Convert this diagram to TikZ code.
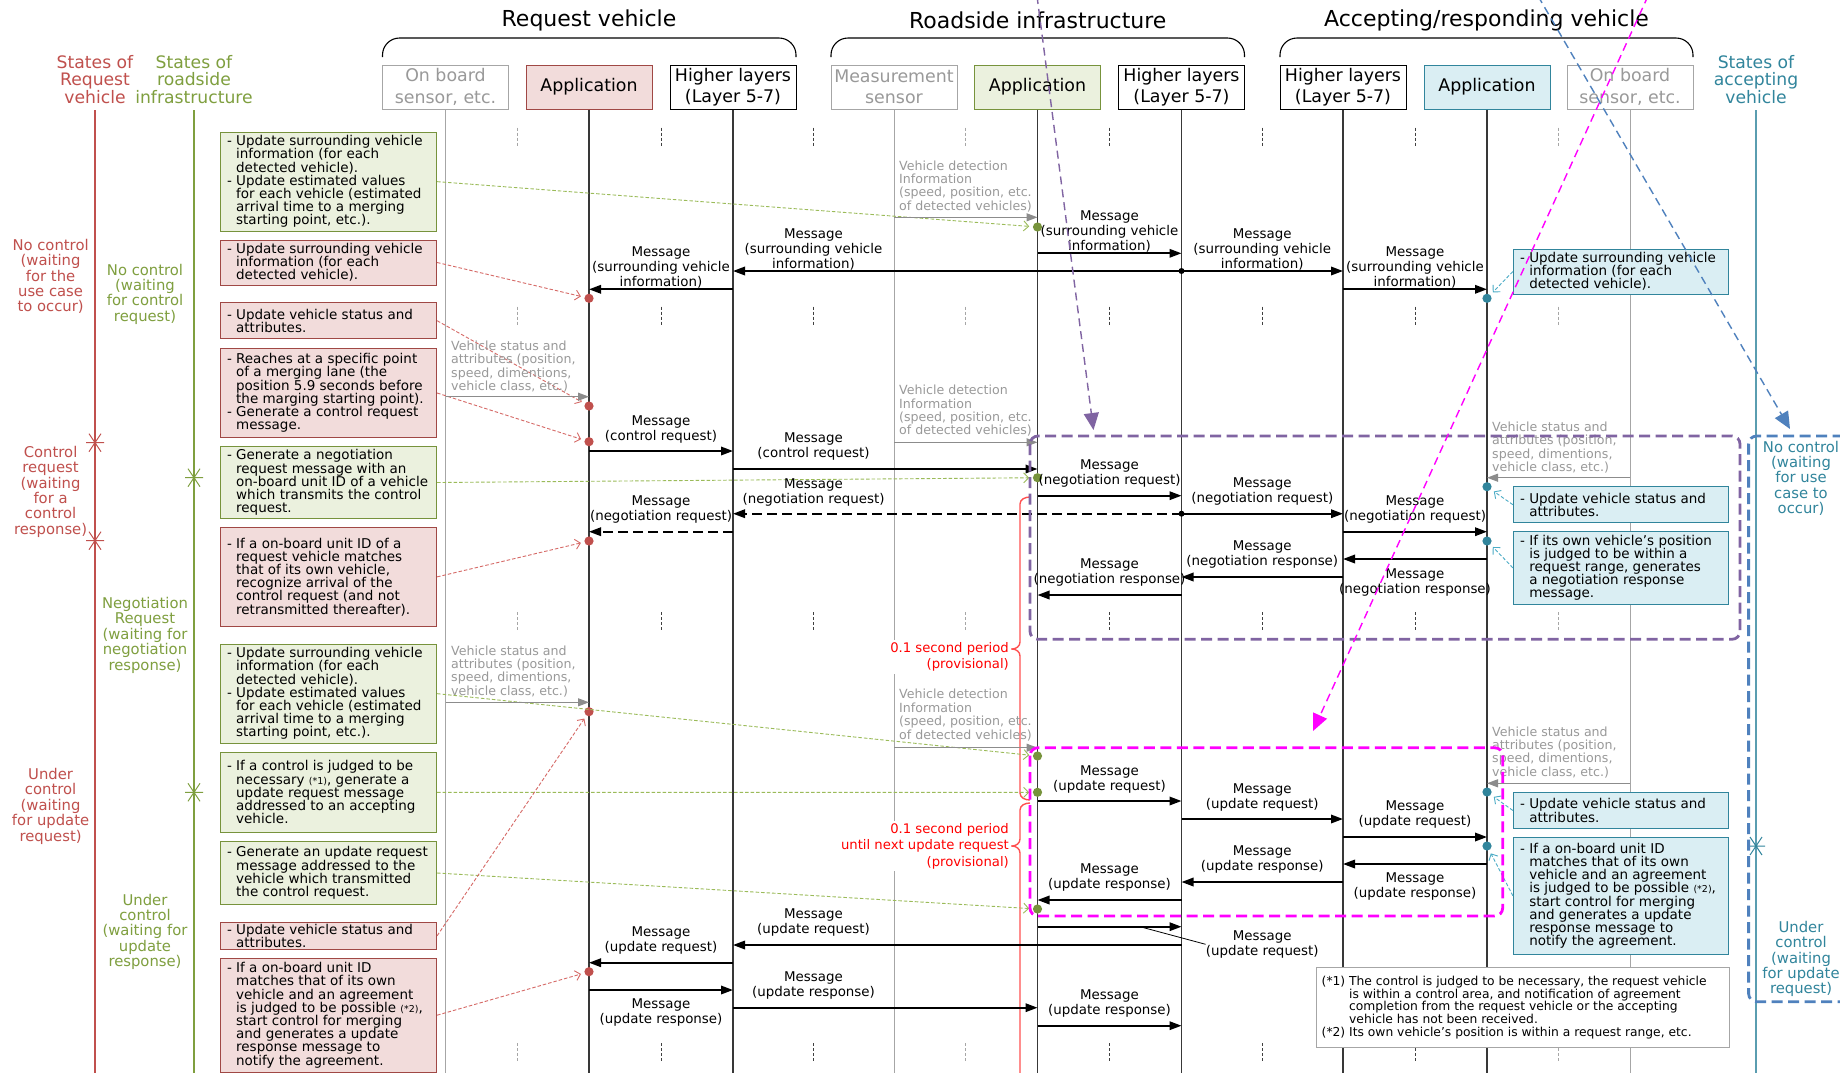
\documentclass[tikz,border=0pt]{standalone}
\usepackage{fontspec}
\setmainfont{DejaVu Sans}
\usetikzlibrary{arrows.meta}

\definecolor{rdA}{HTML}{C0504D}
\definecolor{rdFill}{HTML}{F2DCDB}
\definecolor{rdEdge}{HTML}{A04845}
\definecolor{rdDash}{HTML}{D66A67}
\definecolor{gnA}{HTML}{7F9F3F}
\definecolor{gnFill}{HTML}{EBF1DE}
\definecolor{gnEdge}{HTML}{77933C}
\definecolor{gnDash}{HTML}{9BBB59}
\definecolor{gnDot}{HTML}{77933C}
\definecolor{blA}{HTML}{31859C}
\definecolor{blFill}{HTML}{DAEEF3}
\definecolor{blEdge}{HTML}{31859C}
\definecolor{blDash}{HTML}{4BACC6}
\definecolor{grA}{HTML}{8C8C8C}
\definecolor{grTxt}{HTML}{999999}
\definecolor{grEdge}{HTML}{A6A6A6}
\definecolor{purp}{HTML}{8064A2}
\definecolor{magen}{HTML}{FF00FF}
\definecolor{blueBox}{HTML}{4F81BD}
\definecolor{brRed}{HTML}{FF5050}

\newcommand\hng{\hphantom{-\ }}
\newcommand\fnhang{\hphantom{(*1)\ }}
\newcommand\smallnote[1]{{\fontsize{9.5}{9.5}\selectfont #1}}

\tikzset{
  hdr/.style={font=\fontsize{22}{24}\selectfont, inner sep=0pt},
  grpbrace/.style={line width=1.1pt, rounded corners=17pt},
  lifebox/.style={draw, line width=1pt, minimum width=126pt, minimum height=44pt, inner sep=0pt, align=center, font=\fontsize{17.4}{21.5}\selectfont},
  sensorbox/.style={lifebox, draw=grEdge, text=grTxt, fill=white},
  layerbox/.style={lifebox, draw=black, fill=white},
  appR/.style={lifebox, draw=rdEdge, fill=rdFill},
  appG/.style={lifebox, draw=gnEdge, fill=gnFill},
  appB/.style={lifebox, draw=blEdge, fill=blFill},
  lifeline/.style={line width=1.3pt, draw=black!78},
  sensorline/.style={line width=1pt, draw=grEdge},
  gaptick/.style={line width=0.8pt, dash pattern=on 3pt off 2pt},
  sthead/.style={font=\fontsize{17.2}{17.5}\selectfont, align=center, inner sep=0pt},
  stlbl/.style={font=\fontsize{14.8}{15.4}\selectfont, align=center, inner sep=0pt},
  lbox/.style={line width=1pt, minimum width=216.5pt, inner sep=0pt},
  rbox/.style={lbox, draw=rdEdge, fill=rdFill},
  gbox/.style={lbox, draw=gnEdge, fill=gnFill},
  bbox/.style={lbox, draw=blEdge, fill=blFill, minimum width=215.5pt},
  btxt/.style={font=\fontsize{13.5}{13.2}\selectfont, align=left, inner sep=0pt, anchor=west},
  dotR/.style={circle, fill=rdA, inner sep=0pt, minimum size=9.2pt},
  dotG/.style={circle, fill=gnDot, inner sep=0pt, minimum size=9.2pt},
  dotB/.style={circle, fill=blA, inner sep=0pt, minimum size=9.2pt},
  dotK/.style={circle, fill=black, inner sep=0pt, minimum size=6pt},
  notearrow/.style={line width=0.9pt, dash pattern=on 3.5pt off 2pt, -{Straight Barb[length=5pt,width=10pt]}, shorten >=3.5pt},
  rdash/.style={notearrow, draw=rdDash},
  gdash/.style={notearrow, draw=gnDash},
  bdash/.style={notearrow, draw=blDash},
  msg/.style={line width=1.8pt, -{Triangle[length=12pt,width=8.5pt]}},
  msgd/.style={msg, dash pattern=on 10pt off 5pt},
  sarr/.style={line width=1.1pt, draw=grA, -{Triangle[length=11pt,width=8pt]}},
  mlbl/.style={font=\fontsize{13.4}{15}\selectfont, align=center, inner sep=0pt},
  slbl/.style={font=\fontsize{12.6}{13.4}\selectfont, align=left, inner sep=0pt, anchor=west, text=grTxt},
  rtxt/.style={font=\fontsize{13.2}{16.5}\selectfont, text=red, align=right, fill=white, inner sep=2pt, anchor=east},
  timebrace/.style={draw=brRed, line width=1.4pt},
  bigtip/.style={-{Triangle[length=17pt,width=15pt]}},
  longarr/.style={line width=1.4pt, dash pattern=on 8pt off 5pt, bigtip},
  groupbox/.style={line width=2.8pt, dash pattern=on 11pt off 5.5pt, rounded corners=8pt},
  fnbox/.style={draw=grEdge, line width=1pt, fill=white, minimum width=413pt, minimum height=80.4pt, inner sep=0pt},
  fntxt/.style={font=\fontsize{12.3}{12.8}\selectfont, align=left, inner sep=0pt, anchor=west},
  statemark/.pic={\draw (-9,0) -- (9,0) (-6,-9) -- (6,9) (6,-9) -- (-6,9);},
}

\begin{document}
\begin{tikzpicture}[x=1pt,y=-1pt]
\useasboundingbox (0,0) rectangle (1840,1072);
\clip (0,0) rectangle (1840,1072);
\fill[white] (0,0) rectangle (1840,1072);
\coordinate (bottom) at (0,1074);

% ---------- group headers ----------
\node[hdr] (hdA) at (589,20) {Request vehicle};
\node[hdr] (hdB) at (1037.75,20) {Roadside infrastructure};
\node[hdr] (hdC) at (1486.5,20) {Accepting/responding vehicle};
\draw[grpbrace] (382.5,57) -- (382.5,38) -- (796,38) -- (796,57);
\draw[grpbrace] (831,57) -- (831,38) -- (1244.5,38) -- (1244.5,57);
\draw[grpbrace] (1280,57) -- (1280,38) -- (1693,38) -- (1693,57);

% ---------- lifeline heads ----------
\node[sensorbox] (sA) at (445.5,87) {On board\\sensor, etc.};
\node[appR] (aA) at (589,87) {Application};
\node[layerbox] (hA) at (733,87) {Higher layers\\(Layer 5-7)};
\node[sensorbox] (sB) at (894,87) {Measurement\\sensor};
\node[appG] (aB) at (1037.5,87) {Application};
\node[layerbox] (hB) at (1181.5,87) {Higher layers\\(Layer 5-7)};
\node[layerbox] (hC) at (1343,87) {Higher layers\\(Layer 5-7)};
\node[appB] (aC) at (1487,87) {Application};
\node[sensorbox] (sC) at (1630,87) {On board\\sensor, etc.};

% lifelines
\draw[sensorline] (sA.south) -- (sA |- bottom);
\draw[sensorline] (sB.south) -- (sB |- bottom);
\draw[sensorline] (sC.south) -- (sC |- bottom);
\foreach \n in {aA,hA,aB,hB,hC,aC} \draw[lifeline] (\n.south) -- (\n |- bottom);

% gap ticks between lifelines
\foreach \y in {127.7,306.7,612.3,1043}{
  \foreach \x in {517.25,965.75,1558.5} \draw[gaptick, grEdge] (\x,\y) -- ++(0,18);
  \foreach \x in {661,813.5,1109.5,1262.25,1415} \draw[gaptick, black!75] (\x,\y) -- ++(0,18);
}

% ---------- state columns ----------
\node[sthead, text=rdA] (shR) at (95,79.5) {States of\\Request\\vehicle};
\node[sthead, text=gnA] (shG) at (194,79.5) {States of\\roadside\\infrastructure};
\node[sthead, text=blA] (shB) at (1756,79.5) {States of\\accepting\\vehicle};
\draw[rdA, line width=1.2pt] (shR |- 0,110) -- (shR |- bottom);
\draw[gnA, line width=1.2pt] (shG |- 0,110) -- (shG |- bottom);
\draw[blA!80, line width=1.2pt] (shB |- 0,110) -- (shB |- bottom);

\node[stlbl, text=rdA] (sr1) at (50.6,276.5) {No control\\(waiting\\for the\\use case\\to occur)};
\node[stlbl, text=rdA] (sr2) at (50.6,491.7) {Control\\request\\(waiting\\for a\\control\\response)};
\node[stlbl, text=rdA] (sr3) at (50.6,806.3) {Under\\control\\(waiting\\for update\\request)};
\node[stlbl, text=gnA] (sg1) at (145,294.2) {No control\\(waiting\\for control\\request)};
\node[stlbl, text=gnA] (sg2) at (145,635.3) {Negotiation\\Request\\(waiting for\\negotiation\\response)};
\node[stlbl, text=gnA] (sg3) at (145,931.8) {Under\\control\\(waiting for\\update\\response)};
\node[stlbl, text=blA] (sb1) at (1801,478.3) {No control\\(waiting\\for use\\case to\\occur)};
\node[stlbl, text=blA] (sb2) at (1801,959) {Under\\control\\(waiting\\for update\\request)};

\pic[rdA, line width=1pt] at (95,442.7) {statemark};
\pic[rdA, line width=1pt] at (95,540.7) {statemark};
\pic[gnA, line width=1pt] at (194,477.7) {statemark};
\pic[gnA, line width=1pt] at (194,792.3) {statemark};
\pic[blA, line width=1pt] at (1756,846) {statemark};

% ---------- request vehicle / roadside notes ----------
\node[gbox, minimum height=98.7pt] (b1) at (328.35,181.65) {};
\node[btxt] (b1t) at ([xshift=7.2pt]b1.west) {- Update surrounding vehicle\\\hng information (for each\\\hng detected vehicle).\\- Update estimated values\\\hng for each vehicle (estimated\\\hng arrival time to a merging\\\hng starting point, etc.).};
\node[rbox, minimum height=45pt] (b2) at (328.35,262.5) {};
\node[btxt] (b2t) at ([xshift=7.2pt]b2.west) {- Update surrounding vehicle\\\hng information (for each\\\hng detected vehicle).};
\node[rbox, minimum height=36pt] (b3) at (328.35,320.7) {};
\node[btxt] (b3t) at ([xshift=7.2pt]b3.west) {- Update vehicle status and\\\hng attributes.};
\node[rbox, minimum height=89.4pt] (b4) at (328.35,393) {};
\node[btxt] (b4t) at ([xshift=7.2pt]b4.west) {- Reaches at a specific point\\\hng of a merging lane (the\\\hng position 5.9 seconds before\\\hng the marging starting point).\\- Generate a control request\\\hng message.};
\node[gbox, minimum height=71.6pt] (b5) at (328.35,482.5) {};
\node[btxt] (b5t) at ([xshift=7.2pt]b5.west) {- Generate a negotiation\\\hng request message with an\\\hng on-board unit ID of a vehicle\\\hng which transmits the control\\\hng request.};
\node[rbox, minimum height=98.3pt] (b6) at (328.35,576.85) {};
\node[btxt] (b6t) at ([xshift=7.2pt]b6.west) {- If a on-board unit ID of a\\\hng request vehicle matches\\\hng that of its own vehicle,\\\hng recognize arrival of the\\\hng control request (and not\\\hng retransmitted thereafter).};
\node[gbox, minimum height=99.3pt] (b7) at (328.35,693.65) {};
\node[btxt] (b7t) at ([xshift=7.2pt]b7.west) {- Update surrounding vehicle\\\hng information (for each\\\hng detected vehicle).\\- Update estimated values\\\hng for each vehicle (estimated\\\hng arrival time to a merging\\\hng starting point, etc.).};
\node[gbox, minimum height=80.7pt] (b8) at (328.35,792.35) {};
\node[btxt] (b8t) at ([xshift=7.2pt]b8.west) {- If a control is judged to be\\\hng necessary \smallnote{(*1)}, generate a\\\hng update request message\\\hng addressed to an accepting\\\hng vehicle.};
\node[gbox, minimum height=62.6pt] (b9) at (328.35,873) {};
\node[btxt] (b9t) at ([xshift=7.2pt]b9.west) {- Generate an update request\\\hng message addressed to the\\\hng vehicle which transmitted\\\hng the control request.};
\node[rbox, minimum height=27pt] (b10) at (328.35,935.8) {};
\node[btxt] (b10t) at ([xshift=7.2pt]b10.west) {- Update vehicle status and\\\hng attributes.};
\node[rbox, minimum height=113.7pt] (b11) at (328.35,1015.2) {};
\node[btxt] (b11t) at ([xshift=7.2pt]b11.west) {- If a on-board unit ID\\\hng matches that of its own\\\hng vehicle and an agreement\\\hng is judged to be possible \smallnote{(*2)},\\\hng start control for merging\\\hng and generates a update\\\hng response message to\\\hng notify the agreement.};

% ---------- accepting vehicle notes ----------
\node[bbox, minimum height=45pt] (c1) at (1621.15,271.5) {};
\node[btxt] (c1t) at ([xshift=7pt]c1.west) {- Update surrounding vehicle\\\hng information (for each\\\hng detected vehicle).};
\node[bbox, minimum height=36pt] (c2) at (1621.15,504.7) {};
\node[btxt] (c2t) at ([xshift=7pt]c2.west) {- Update vehicle status and\\\hng attributes.};
\node[bbox, minimum height=72.3pt] (c3) at (1621.15,567.85) {};
\node[btxt] (c3t) at ([xshift=7pt]c3.west) {- If its own vehicle's position\\\hng is judged to be within a\\\hng request range, generates\\\hng a negotiation response\\\hng message.};
\node[bbox, minimum height=35.6pt] (c4) at (1621.15,810.5) {};
\node[btxt] (c4t) at ([xshift=7pt]c4.west) {- Update vehicle status and\\\hng attributes.};
\node[bbox, minimum height=117pt] (c5) at (1621.15,895.8) {};
\node[btxt] (c5t) at ([xshift=7pt]c5.west) {- If a on-board unit ID\\\hng matches that of its own\\\hng vehicle and an agreement\\\hng is judged to be possible \smallnote{(*2)},\\\hng start control for merging\\\hng and generates a update\\\hng response message to\\\hng notify the agreement.};

% ---------- footnote ----------
\node[fnbox] (fn) at (1522.5,1007.5) {};
\node[fntxt] (fnt) at ([xshift=6pt]fn.west) {(*1) The control is judged to be necessary, the request vehicle\\\fnhang is within a control area, and notification of agreement\\\fnhang completion from the request vehicle or the accepting\\\fnhang vehicle has not been received.\\(*2) Its own vehicle's position is within a request range, etc.};

% ---------- timing braces ----------
\draw[timebrace] (1030,497) to[out=180,in=90] (1020,504) -- (1020,642) to[out=270,in=0] (1012,649) to[out=0,in=90] (1020,656) -- (1020,793) to[out=270,in=180] (1030,800);
\draw[timebrace] (1030,803) to[out=180,in=90] (1020,810) -- (1020,839) to[out=270,in=0] (1012,846) to[out=0,in=90] (1020,853) -- (1020,1080);
\node[rtxt] (tm1) at (1011,657) {0.1 second period\\(provisional)};
\node[rtxt] (tm2) at (1011,846) {0.1 second period\\until next update request\\(provisional)};

% ---------- dots on application lifelines ----------
\node[dotR] (r1) at (aA |- 0,298.3) {};
\node[dotR] (r2) at (aA |- 0,406) {};
\node[dotR] (r3) at (aA |- 0,441.7) {};
\node[dotR] (r4) at (aA |- 0,541) {};
\node[dotR] (r5) at (aA |- 0,711.7) {};
\node[dotR] (r6) at (aA |- 0,971.7) {};
\node[dotG] (g1) at (aB |- 0,227) {};
\node[dotG] (g2) at (aB |- 0,477.7) {};
\node[dotG] (g3) at (aB |- 0,756) {};
\node[dotG] (g4) at (aB |- 0,792.3) {};
\node[dotG] (g5) at (aB |- 0,909) {};
\node[dotB] (u1) at (aC |- 0,298.3) {};
\node[dotB] (u2) at (aC |- 0,486.7) {};
\node[dotB] (u3) at (aC |- 0,541) {};
\node[dotB] (u4) at (aC |- 0,792) {};
\node[dotB] (u5) at (aC |- 0,846) {};

% note connectors
\draw[gdash] (b1.east) -- (g1);
\draw[gdash] (b5.east) -- (g2);
\draw[gdash] (b7.east) -- (g3);
\draw[gdash] (b8.east) -- (g4);
\draw[gdash] (b9.east) -- (g5);
\draw[rdash] (b2.east) -- (r1);
\draw[rdash] (b3.east) -- (r2);
\draw[rdash] (b4.east) -- (r3);
\draw[rdash] (b6.east) -- (r4);
\draw[rdash] (b10.east) -- (r5);
\draw[rdash] (b11.east) -- (r6);
\draw[bdash] (c1.west) -- (u1);
\draw[bdash] (c2.west) -- (u2);
\draw[bdash] (c3.west) -- (u3);
\draw[bdash] (c4.west) -- (u4);
\draw[bdash] (c5.west) -- (u5);

% ---------- sensor inputs ----------
\draw[sarr] (sB |- 0,217.3) -- (aB |- 0,217.3);
\node[slbl] (v1) at (899,186.3) {Vehicle detection\\Information\\(speed, position, etc.\\of detected vehicles)};
\draw[sarr] (sA |- 0,396.7) -- (aA |- 0,396.7);
\node[slbl] (v2) at (451,366.7) {Vehicle status and\\attributes (position,\\speed, dimentions,\\vehicle class, etc.)};
\draw[sarr] (sB |- 0,442.3) -- (aB |- 0,442.3);
\node[slbl] (v3) at (899,410.8) {Vehicle detection\\Information\\(speed, position, etc.\\of detected vehicles)};
\draw[sarr] (sC |- 0,477.7) -- (aC |- 0,477.7);
\node[slbl] (v4) at (1492,447.5) {Vehicle status and\\attributes (position,\\speed, dimentions,\\vehicle class, etc.)};
\draw[sarr] (sA |- 0,702.3) -- (aA |- 0,702.3);
\node[slbl] (v5) at (451,671.3) {Vehicle status and\\attributes (position,\\speed, dimentions,\\vehicle class, etc.)};
\draw[sarr] (sB |- 0,747.7) -- (aB |- 0,747.7);
\node[slbl] (v6) at (899,715) {Vehicle detection\\Information\\(speed, position, etc.\\of detected vehicles)};
\draw[sarr] (sC |- 0,783.3) -- (aC |- 0,783.3);
\node[slbl] (v7) at (1492,752.3) {Vehicle status and\\attributes (position,\\speed, dimentions,\\vehicle class, etc.)};

% ---------- surrounding vehicle information ----------
\draw[msg] (aB |- 0,253.3) -- (hB |- 0,253.3);
\node[mlbl] (m1) at (1109.5,231.7) {Message\\(surrounding vehicle\\information)};
\node[dotK] (k1) at (hB |- 0,271) {};
\draw[msg] (k1.center) -- (hA |- 0,271);
\node[mlbl] (m2) at (813.5,249.3) {Message\\(surrounding vehicle\\information)};
\draw[msg] (k1.center) -- (hC |- 0,271);
\node[mlbl] (m3) at (1262.25,249.3) {Message\\(surrounding vehicle\\information)};
\draw[msg] (hA |- 0,289.3) -- (aA |- 0,289.3);
\node[mlbl] (m4) at (661,267.2) {Message\\(surrounding vehicle\\information)};
\draw[msg] (hC |- 0,289.3) -- (aC |- 0,289.3);
\node[mlbl] (m5) at (1415,267.3) {Message\\(surrounding vehicle\\information)};

% ---------- control / negotiation ----------
\draw[msg] (aA |- 0,451) -- (hA |- 0,451);
\node[mlbl] (m6) at (661,429.5) {Message\\(control request)};
\draw[msg] (hA |- 0,469) -- (aB |- 0,469);
\node[mlbl] (m7) at (813.5,446.8) {Message\\(control request)};
\draw[msg] (aB |- 0,495.7) -- (hB |- 0,495.7);
\node[mlbl] (m8) at (1109.5,473.7) {Message\\(negotiation request)};
\node[dotK] (k2) at (hB |- 0,513.7) {};
\draw[msgd] (k2.center) -- (hA |- 0,513.7);
\node[mlbl] (m9) at (813.5,492) {Message\\(negotiation request)};
\draw[msg] (k2.center) -- (hC |- 0,513.7);
\node[mlbl] (m10) at (1262.25,491.7) {Message\\(negotiation request)};
\draw[msgd] (hA |- 0,531.7) -- (aA |- 0,531.7);
\node[mlbl] (m11) at (661,509.7) {Message\\(negotiation request)};
\draw[msg] (hC |- 0,531.7) -- (aC |- 0,531.7);
\node[mlbl] (m12) at (1415,509.7) {Message\\(negotiation request)};
\draw[msg] (aC |- 0,559) -- (hC |- 0,559);
\node[mlbl] (m13) at (1415,582.5) {Message\\(negotiation response)};
\draw[msg] (hC |- 0,577) -- (hB |- 0,577);
\node[mlbl] (m14) at (1262.25,554.2) {Message\\(negotiation response)};
\draw[msg] (hB |- 0,595) -- (aB |- 0,595);
\node[mlbl] (m15) at (1109.5,572.2) {Message\\(negotiation response)};

% ---------- update request / response ----------
\draw[msg] (aB |- 0,801) -- (hB |- 0,801);
\node[mlbl] (m16) at (1109.5,779.3) {Message\\(update request)};
\draw[msg] (hB |- 0,819) -- (hC |- 0,819);
\node[mlbl] (m17) at (1262.25,797) {Message\\(update request)};
\draw[msg] (hC |- 0,837) -- (aC |- 0,837);
\node[mlbl] (m18) at (1415,814.8) {Message\\(update request)};
\draw[msg] (aC |- 0,864) -- (hC |- 0,864);
\node[mlbl] (m19) at (1415,886.7) {Message\\(update response)};
\draw[msg] (hC |- 0,882) -- (hB |- 0,882);
\node[mlbl] (m20) at (1262.25,859.4) {Message\\(update response)};
\draw[msg] (hB |- 0,900) -- (aB |- 0,900);
\node[mlbl] (m21) at (1109.5,877.7) {Message\\(update response)};
\draw[msg] (aB |- 0,926.7) -- coordinate[pos=0.712] (co1) (hB |- 0,926.7);
\node[mlbl] (m22) at (1262.25,944.3) {Message\\(update request)};
\draw[line width=0.8pt] (co1) -- (m22.west);
\draw[msg] (hB |- 0,945) -- (hA |- 0,945);
\node[mlbl] (m23) at (813.5,922.7) {Message\\(update request)};
\draw[msg] (hA |- 0,962.7) -- (aA |- 0,962.7);
\node[mlbl] (m24) at (661,940) {Message\\(update request)};
\draw[msg] (aA |- 0,990) -- (hA |- 0,990);
\node[mlbl] (m25) at (661,1012.7) {Message\\(update response)};
\draw[msg] (hA |- 0,1007.7) -- (aB |- 0,1007.7);
\node[mlbl] (m26) at (813.5,985.8) {Message\\(update response)};
\draw[msg] (aB |- 0,1025.7) -- (hB |- 0,1025.7);
\node[mlbl] (m27) at (1109.5,1003.7) {Message\\(update response)};

% ---------- phase frames ----------
\draw[groupbox, purp] (1030,436) rectangle (1740,639.3);
\draw[groupbox, magen] (1030,747.7) rectangle (1502.7,916);
\draw[groupbox, blueBox] (1860,436) -- (1748.6,436) -- (1748.6,1001.7) -- (1860,1001.7);

% ---------- phase pointers ----------
\coordinate (pTop) at (1037,-4);
\coordinate (pTip) at (1093.5,430);
\draw[longarr, purp] (pTop) -- (pTip);
\coordinate (mTop) at (1648,-4);
\coordinate (mTip) at (1313,731);
\draw[longarr, magen] (mTop) -- (mTip);
\coordinate (bTop) at (1538,-4);
\coordinate (bTip) at (1790,429);
\draw[longarr, blueBox] (bTop) -- (bTip);
\end{tikzpicture}
\end{document}
